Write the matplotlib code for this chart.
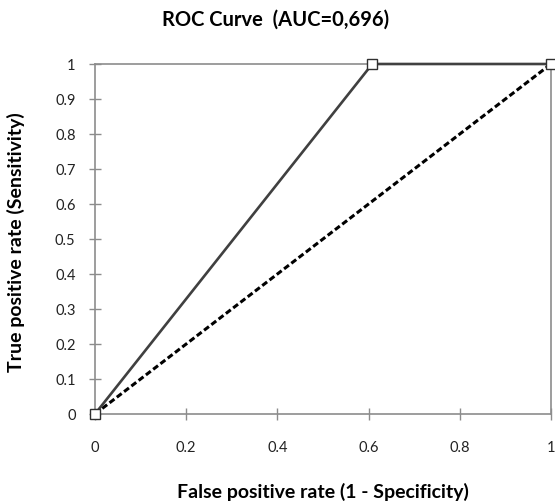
import matplotlib
matplotlib.use("Agg")
import matplotlib.pyplot as plt

fpr = [0.0, 0.608, 1.0]
tpr = [0.0, 1.0, 1.0]
ref_x = [0.0, 1.0]
ref_y = [0.0, 1.0]
xticks = [0, 0.2, 0.4, 0.6, 0.8, 1]
xticklabels = ["0", "0.2", "0.4", "0.6", "0.8", "1"]
yticks = [0, 0.1, 0.2, 0.3, 0.4, 0.5, 0.6, 0.7, 0.8, 0.9, 1]
yticklabels = ["0", "0.1", "0.2", "0.3", "0.4", "0.5", "0.6", "0.7", "0.8", "0.9", "1"]
title = "ROC Curve  (AUC=0,696)"
xlabel = "False positive rate (1 - Specificity)"
ylabel = "True positive rate (Sensitivity)"

plt.rcParams['font.family'] = ['Lato', 'DejaVu Sans']

W, H = 555, 502
fig = plt.figure(figsize=(W / 100, H / 100), dpi=100)
ax = fig.add_axes([95 / W, 87 / H, 456 / W, 350 / H])

ax.plot(ref_x, ref_y, color='black', lw=2.2, ls=(0, (2, 1)), zorder=3, clip_on=False)
ax.plot(fpr, tpr, color='#404040', lw=1.9, zorder=4, clip_on=False,
        marker='s', markersize=6.5, markerfacecolor='white', markeredgecolor='#303030',
        markeredgewidth=1.0)

ax.set_xlim(0, 1)
ax.set_ylim(0, 1)
ax.set_xticks(xticks)
ax.set_xticklabels(xticklabels)
ax.set_yticks(yticks)
ax.set_yticklabels(yticklabels)

for s in ax.spines.values():
    s.set_color('#8c8c8c')
    s.set_linewidth(1.2)

ax.tick_params(axis='both', direction='inout', length=8, width=1, color='#8c8c8c',
               labelsize=10.5, labelcolor='#222222')
ax.tick_params(axis='x', pad=15)
ax.tick_params(axis='y', pad=10)

fig.text(276 / W, 1 - 26 / H, title, fontsize=14.5, fontweight='bold',
         ha='center', va='baseline')
fig.text(323 / W, 1 - 498 / H, xlabel, fontsize=14, fontweight='bold',
         ha='center', va='baseline')
fig.text(16 / W, 1 - 242 / H, ylabel, fontsize=14, fontweight='bold',
         ha='center', va='center', rotation=90)

fig.savefig("out.png", dpi=100)
